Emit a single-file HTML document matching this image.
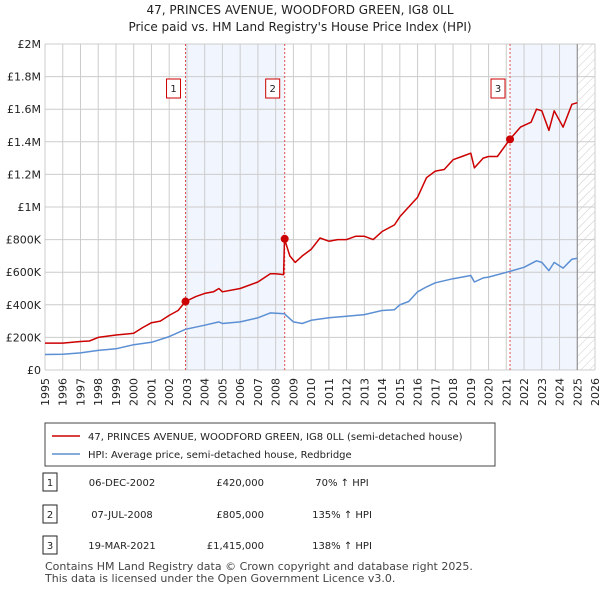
<!DOCTYPE html>
<html><head><meta charset="utf-8"><style>
body{margin:0;background:#fff;font-family:"Liberation Sans","DejaVu Sans",sans-serif;}
svg text{font-family:"DejaVu Sans","Liberation Sans",sans-serif;}
</style></head><body>
<svg width="600" height="590" xmlns="http://www.w3.org/2000/svg">
<defs><pattern id="hatch" width="6" height="6" patternUnits="userSpaceOnUse" patternTransform="rotate(45)"><line x1="0" y1="0" x2="0" y2="6" stroke="#ccc" stroke-width="1"/></pattern></defs>
<text x="300" y="14" text-anchor="middle" font-size="12" fill="#222">47, PRINCES AVENUE, WOODFORD GREEN, IG8 0LL</text>
<text x="300" y="31" text-anchor="middle" font-size="12" fill="#222">Price paid vs. HM Land Registry's House Price Index (HPI)</text>
<g id="plot"></g>
<g id="legend">
<rect x="45" y="423" width="450" height="43" fill="#fff" stroke="#444"/>
<line x1="52" y1="436" x2="80" y2="436" stroke="#cc0000" stroke-width="1.5"/>
<text x="88" y="440" font-size="10" fill="#222">47, PRINCES AVENUE, WOODFORD GREEN, IG8 0LL (semi-detached house)</text>
<line x1="52" y1="454" x2="80" y2="454" stroke="#5b8fd4" stroke-width="1.5"/>
<text x="88" y="458" font-size="10" fill="#222">HPI: Average price, semi-detached house, Redbridge</text>
</g>
<g id="table" font-size="10" fill="#222"></g>
<text x="45" y="570" font-size="11" fill="#444">Contains HM Land Registry data © Crown copyright and database right 2025.</text>
<text x="45" y="582" font-size="11" fill="#444">This data is licensed under the Open Government Licence v3.0.</text>
</svg>
<script>
const years=[1995,1996,1997,1998,1999,2000,2001,2002,2003,2004,2005,2006,2007,2008,2009,2010,2011,2012,2013,2014,2015,2016,2017,2018,2019,2020,2021,2022,2023,2024,2025,2026];
const yTicks=[0,200000,400000,600000,800000,1000000,1200000,1400000,1600000,1800000,2000000];
const yTickLabels=["£0","£200K","£400K","£600K","£800K","£1M","£1.2M","£1.4M","£1.6M","£1.8M","£2M"];
const priceT=[1995,1996,1997,1997.5,1998,1999,2000,2000.5,2001,2001.5,2002,2002.5,2002.92,2003.5,2004,2004.5,2004.8,2005,2006,2007,2007.7,2008,2008.45,2008.5,2008.8,2009.1,2009.5,2010,2010.5,2011,2011.5,2012,2012.5,2013,2013.5,2014,2014.7,2015,2015.5,2016,2016.5,2017,2017.5,2018,2018.5,2019,2019.2,2019.7,2020,2020.5,2021.2,2021.8,2022.4,2022.7,2023,2023.4,2023.7,2024.2,2024.7,2025];
const priceV=[165000,165000,175000,178000,200000,215000,225000,260000,290000,300000,335000,365000,420000,450000,470000,480000,500000,480000,500000,540000,590000,590000,585000,805000,700000,660000,700000,740000,810000,790000,800000,800000,820000,820000,800000,850000,890000,940000,1000000,1060000,1180000,1220000,1230000,1290000,1310000,1330000,1240000,1300000,1310000,1310000,1415000,1490000,1520000,1600000,1590000,1470000,1590000,1490000,1630000,1640000];
const hpiT=[1995,1996,1997,1998,1999,2000,2001,2002,2002.92,2004,2004.8,2005,2006,2007,2007.7,2008.5,2009,2009.5,2010,2011,2012,2013,2014,2014.7,2015,2015.5,2016,2016.5,2017,2018,2019,2019.2,2019.7,2020,2021.2,2022,2022.7,2023,2023.4,2023.7,2024.2,2024.7,2025];
const hpiV=[95000,97000,105000,120000,130000,155000,170000,205000,250000,275000,295000,285000,295000,320000,350000,345000,295000,285000,305000,320000,330000,340000,365000,370000,400000,420000,480000,510000,535000,560000,580000,540000,565000,570000,605000,630000,670000,660000,610000,660000,625000,680000,685000];
const saleNums=["1","2","3"];
const saleT=[2002.92,2008.51,2021.21];
const saleV=[420000,805000,1415000];
const saleDates=["06-DEC-2002","07-JUL-2008","19-MAR-2021"];
const salePrices=["£420,000","£805,000","£1,415,000"];
const saleHpi=["70% ↑ HPI","135% ↑ HPI","138% ↑ HPI"];
const X0=45,X1=595,Y0=370,Y1=44,T0=1995,T1=2026,VMAX=2000000,LAST=2025.0;
const xs=t=>X0+(t-T0)/(T1-T0)*(X1-X0);
const ys=v=>Y0-v/VMAX*(Y0-Y1);
const NS="http://www.w3.org/2000/svg";
const plot=document.getElementById('plot');
function mk(tag,attrs,parent){const e=document.createElementNS(NS,tag);for(const k in attrs)e.setAttribute(k,attrs[k]);(parent||plot).appendChild(e);return e;}
// shaded regions
let r=mk('rect',{x:xs(saleT[0]),y:Y1,width:xs(saleT[1])-xs(saleT[0]),height:Y0-Y1,fill:'#eef3fc',opacity:0.8});


r=mk('rect',{x:xs(saleT[2]),y:Y1,width:xs(LAST)-xs(saleT[2]),height:Y0-Y1,fill:'#eef3fc',opacity:0.8});


r=mk('rect',{x:xs(LAST),y:Y1,width:X1-xs(LAST),height:Y0-Y1,fill:'url(#hatch)'});


// grid
years.forEach(y=>{const l=mk('line',{x1:xs(y),x2:xs(y),y1:Y1,y2:Y0,stroke:'#ccc','stroke-width':1});


const t=mk('text',{x:0,y:0,transform:`translate(${xs(y)+4},${Y0+8}) rotate(-90)`,'text-anchor':'end','font-size':11,fill:'#222'});t.textContent=y;

});
yTicks.forEach((v,i)=>{const l=mk('line',{x1:X0,x2:X1,y1:ys(v),y2:ys(v),stroke:'#ccc','stroke-width':1});


const t=mk('text',{x:X0-4,y:ys(v)+4,'text-anchor':'end','font-size':11,fill:'#222'});t.textContent=yTickLabels[i];

});
let vl=mk('line',{x1:xs(LAST),x2:xs(LAST),y1:Y1,y2:Y0,stroke:'#888','stroke-width':1});


// sale markers lines
saleT.forEach((t,i)=>{const l=mk('line',{x1:xs(t),x2:xs(t),y1:Y1,y2:Y0,stroke:'#e05050','stroke-width':1,'stroke-dasharray':'2,2'});


const b=mk('rect',{x:xs(t)-19,y:79,width:14,height:19,fill:'#fff',stroke:'#cc0000'});


const tx=mk('text',{x:xs(t)-12,y:92,'text-anchor':'middle','font-size':10,fill:'#222'});tx.textContent=saleNums[i];

});
function line(T,V,c,name){const d=T.map((t,i)=>(i?'L':'M')+xs(t).toFixed(1)+','+ys(V[i]).toFixed(1)).join('');
const p=mk('path',{d:d,fill:'none',stroke:c,'stroke-width':1.5,'stroke-linejoin':'round'});

}
line(hpiT,hpiV,'#5b8fd4','hpi-line');
line(priceT,priceV,'#cc0000','price-paid-line');
saleT.forEach((t,i)=>{const c=mk('circle',{cx:xs(t),cy:ys(saleV[i]),r:4,fill:'#cc0000'});

});
// table
const tb=document.getElementById('table');
const rowY=[483,515,546];
saleNums.forEach((n,i)=>{const y=rowY[i];
const b=mk('rect',{x:43,y:y-10,width:14,height:18,fill:'#fff',stroke:'#222'},tb);


const cells=[[50,n,'middle'],[122,saleDates[i],'middle'],[264,salePrices[i],'end'],[342,saleHpi[i],'middle']];
cells.forEach(c=>{const t=mk('text',{x:c[0],y:y+3,'text-anchor':c[2],'font-size':10,fill:'#222'},tb);t.textContent=c[1];

});});
</script>
</body></html>
